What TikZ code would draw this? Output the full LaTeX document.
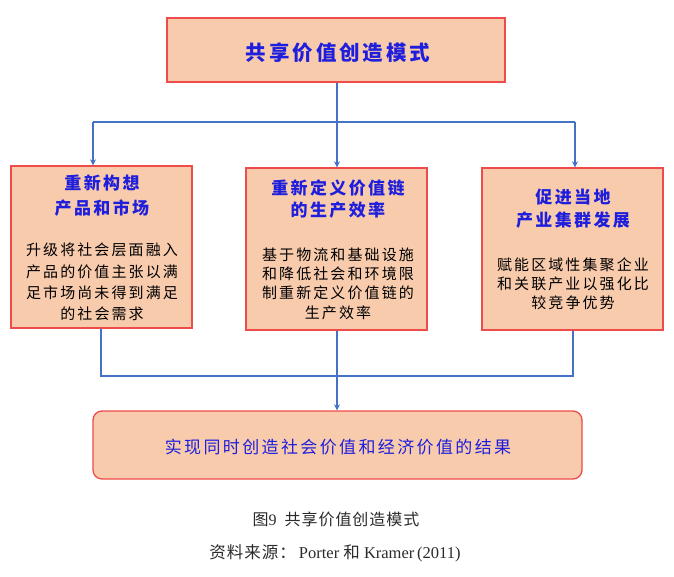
\documentclass[tikz,border=0pt]{standalone}
\usepackage{fontspec}
\setmainfont{Liberation Serif}
\newfontfamily\cjk[LetterSpace=14]{Noto Sans CJK SC}
\newfontfamily\cjkn[LetterSpace=6]{Noto Sans CJK SC}
\usetikzlibrary{arrows.meta}
\definecolor{boxfill}{HTML}{F8CBAD}
\definecolor{boxdraw}{HTML}{EE4B4B}
\definecolor{linkblue}{HTML}{4472C4}
\definecolor{titleblue}{HTML}{1E1EDC}
\definecolor{captiongray}{HTML}{2A2A2A}
\tikzset{
  box/.style={draw=boxdraw, fill=boxfill, line width=1.3pt, inner sep=0pt},
  sidebox/.style={box, minimum width=181pt, minimum height=162pt},
  link/.style={draw=linkblue, line width=1.9pt},
  arr/.style={link, -{Stealth[length=6pt,width=6pt]}},
  boxtitle/.style={align=center, text=titleblue, inner sep=0pt, font=\cjk\bfseries\fontsize{17}{#1}\selectfont},
  boxbody/.style={align=center, text=black, inner sep=0pt, font=\cjk\fontsize{15}{#1}\selectfont},
  caption/.style={text=captiongray, inner sep=0pt}
}
\begin{document}
\begin{tikzpicture}[x=1pt,y=-1pt]
\useasboundingbox (0,0) rectangle (674,577);

% boxes
\node[box, minimum width=338pt, minimum height=64pt] (top) at (336,50) {};
\node[sidebox] (left) at (101.5,247) {};
\node[sidebox] (mid) at (336.5,249) {};
\node[sidebox] (right) at (572.5,249) {};
\node[box, rounded corners=9pt, minimum width=489pt, minimum height=68pt] (bottom) at (337.5,445) {};

% texts
\node[text=titleblue, inner sep=0pt, font=\cjk\bfseries\fontsize{20.5}{24}\selectfont] (toptext) at (338,53) {共享价值创造模式};

\node[boxtitle=25] (ltitle) at (102,195.5) {重新构想\\产品和市场};
\node[boxbody=21.4] (lbody) at (102,282) {升级将社会层面融入\\产品的价值主张以满\\足市场尚未得到满足\\的社会需求};

\node[boxtitle=22] (mtitle) at (338,199) {重新定义价值链\\的生产效率};
\node[boxbody=19.4] (mbody) at (338,283.5) {基于物流和基础设施\\和降低社会和环境限\\制重新定义价值链的\\生产效率};

\node[boxtitle=23.3] (rtitle) at (573,208.5) {促进当地\\产业集群发展};
\node[boxbody=19] (rbody) at (573,284) {赋能区域性集聚企业\\和关联产业以强化比\\较竞争优势};

\node[text=titleblue, inner sep=0pt, font=\cjk\fontsize{17}{20}\selectfont] (bottext) at (338,447) {实现同时创造社会价值和经济价值的结果};

% captions
\node[caption, font=\fontsize{16}{18}\selectfont] (cap1) at (336,519) {{\cjkn 图}9\hspace{8pt}{\cjkn 共享价值创造模式}};
\node[caption, font=\fontsize{16.5}{18}\selectfont] (cap2) at (335,553) {{\cjkn 资料来源：}\hspace{3pt}Porter {\cjkn 和} Kramer\,(2011)};

% connectors
\coordinate (split) at (337,122);
\coordinate (splitL) at (93,122);
\coordinate (splitR) at (575,122);
\draw[link] (split |- top.south) -- (split);
\draw[link] (splitL) -- (splitR);
\draw[arr] (splitL) -- (splitL |- left.north);
\draw[arr] (split) -- (split |- mid.north);
\draw[arr] (splitR) -- (splitR |- right.north);

\coordinate (joinL) at (101,376);
\coordinate (join) at (337,376);
\coordinate (joinR) at (573,376);
\draw[link] (left.south -| joinL) -- (joinL) -- (joinR) -- (right.south -| joinR);
\draw[link] (mid.south -| join) -- (join);
\draw[arr] (join) -- (join |- bottom.north);
\end{tikzpicture}
\end{document}
